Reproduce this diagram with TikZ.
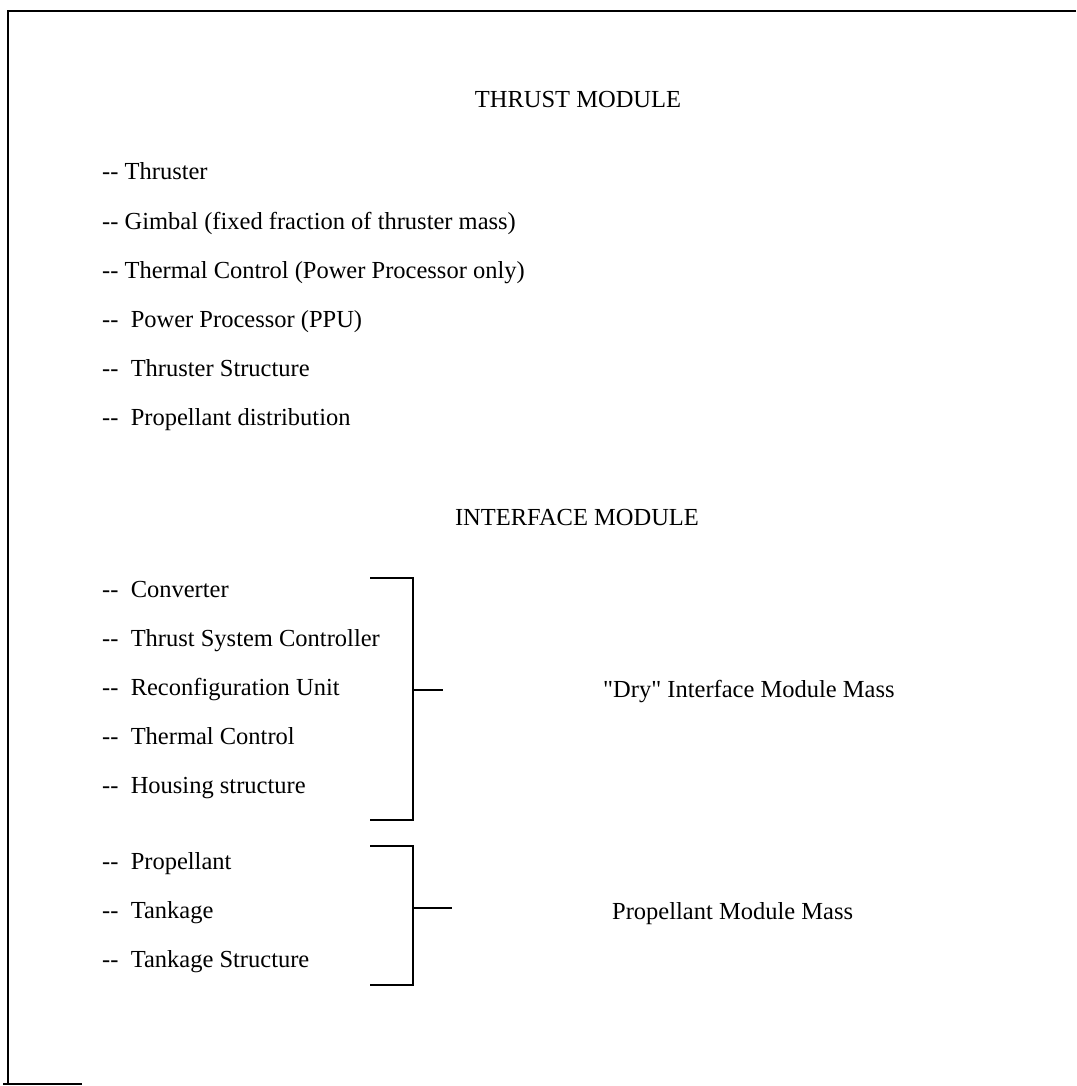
\documentclass[tikz,border=0pt]{standalone}
\usepackage{fontspec}
\setmainfont{Liberation Serif}[Ligatures=TeXOff]
\begin{document}
\begin{tikzpicture}[x=1pt,y=-1pt,
  txt/.style={anchor=base west,inner sep=0pt,font=\fontsize{24.5}{29}\selectfont},
  head/.style={anchor=base,inner sep=0pt,font=\fontsize{24.5}{29}\selectfont},
  frameline/.style={line width=2.6pt,black},
  brk/.style={line width=2.3pt,black}]
\useasboundingbox (0,0) rectangle (1076,1086);
% frame
\draw[frameline] (1076,11) -- (8,11) -- (8,1084);
\draw[frameline] (3,1084) -- (82,1084);
% thrust module
\node[head] (th) at (578,108) {THRUST MODULE};
\node[txt] (t1) at (102,180) {-{}- Thruster};
\node[txt] (t2) at (102,229) {-{}- Gimbal (fixed fraction of thruster mass)};
\node[txt] (t3) at (102,278) {-{}- Thermal Control (Power Processor only)};
\node[txt] (t4) at (102,327) {-{}-\ \ Power Processor (PPU)};
\node[txt] (t5) at (102,376) {-{}-\ \ Thruster Structure};
\node[txt] (t6) at (102,425) {-{}-\ \ Propellant distribution};
% interface module
\node[head] (ih) at (577,525) {INTERFACE MODULE};
\node[txt] (i1) at (102,597) {-{}-\ \ Converter};
\node[txt] (i2) at (102,646) {-{}-\ \ Thrust System Controller};
\node[txt] (i3) at (102,695) {-{}-\ \ Reconfiguration Unit};
\node[txt] (i4) at (102,744) {-{}-\ \ Thermal Control};
\node[txt] (i5) at (102,793) {-{}-\ \ Housing structure};
\node[txt] (p1) at (102,869) {-{}-\ \ Propellant};
\node[txt] (p2) at (102,918) {-{}-\ \ Tankage};
\node[txt] (p3) at (102,967) {-{}-\ \ Tankage Structure};
% labels
\node[txt] (dry) at (603,697) {"Dry" Interface Module Mass};
\node[txt] (pmm) at (612,919) {Propellant Module Mass};
% brackets
\coordinate (b1a) at (370,578);
\coordinate (b1b) at (370,820);
\coordinate (b1m) at (413,690);
\coordinate (b1t) at (443,690);
\draw[brk] (b1a) -- (b1a -| b1m) -- (b1b -| b1m) -- (b1b);
\draw[brk] (b1m) -- (b1t);
\coordinate (b2a) at (370,846);
\coordinate (b2b) at (370,985);
\coordinate (b2m) at (413,908);
\coordinate (b2t) at (452,908);
\draw[brk] (b2a) -- (b2a -| b2m) -- (b2b -| b2m) -- (b2b);
\draw[brk] (b2m) -- (b2t);
\end{tikzpicture}
\end{document}
